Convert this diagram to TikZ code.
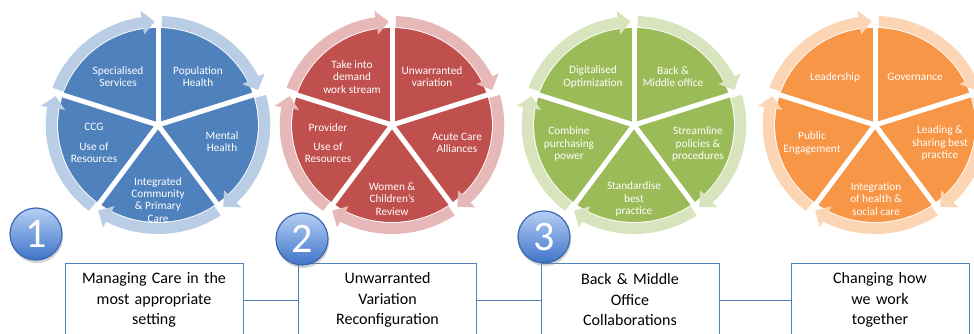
\documentclass[tikz,border=0pt]{standalone}
\usepackage{fontspec}
\setmainfont{Carlito}
\usetikzlibrary{shadows}
\definecolor{bluePie}{HTML}{4F81BD}
\definecolor{blueRing}{HTML}{B9CDE5}
\definecolor{redPie}{HTML}{C0504D}
\definecolor{redRing}{HTML}{E6B9B8}
\definecolor{greenPie}{HTML}{9BBB59}
\definecolor{greenRing}{HTML}{D7E4BD}
\definecolor{orangePie}{HTML}{F79646}
\definecolor{orangeRing}{HTML}{FCD5B5}
\definecolor{boxLine}{HTML}{4F81BD}
\definecolor{ballTop}{HTML}{B5CFF5}
\definecolor{ballBot}{HTML}{3F74C8}
\definecolor{ballLine}{HTML}{3A67AE}

\newcommand{\drawwheel}[4]{%
 \begin{scope}[shift={(#1,-#2)}, xscale=1.03]
  \foreach \k in {0,...,4}{
    \pgfmathsetmacro{\sa}{90-72*\k}
    \pgfmathsetmacro{\ea}{18-72*\k}
    \fill[#3] (0,0) -- (\sa:97) arc[start angle=\sa, end angle=\ea, radius=97] -- cycle;
  }
  \foreach \k in {0,...,4}{
    \draw[white, line width=5pt] (0,0) -- ({90-72*\k}:100);
  }
  \foreach \k in {0,...,4}{
    \pgfmathsetmacro{\ts}{90-72*\k-2}
    \pgfmathsetmacro{\tip}{18-72*\k+1.8}
    \pgfmathsetmacro{\hb}{18-72*\k+8.5}
    \fill[#4] (\ts:109) arc[start angle=\ts, end angle=\hb, radius=109]
      -- (\hb:115.5) -- (\tip:103.5) -- (\hb:91.5) -- (\hb:98)
      arc[start angle=\hb, end angle=\ts, radius=98] -- cycle;
  }
 \end{scope}}

\tikzset{
  lbl/.style={text=white, align=center, inner sep=0pt, font=\fontsize{11.3}{12.2}\selectfont},
  box/.style={draw=boxLine, line width=0.9pt, fill=white, minimum width=178, minimum height=74,
     text width=170, align=center, inner sep=0pt, font=\fontsize{16}{20.5}\selectfont},
  link/.style={draw=boxLine, line width=0.9pt},
  ball/.style={circle, minimum size=52, inner sep=0pt, top color=ballTop, bottom color=ballBot,
     draw=ballLine, line width=1.2pt, text=white, font=\fontsize{42}{42}\selectfont,
     drop shadow={opacity=0.35, shadow xshift=1pt, shadow yshift=-3pt}}
}

\begin{document}
\begin{tikzpicture}[x=1pt, y=1pt]
\useasboundingbox (0,0) rectangle (974,-334);
\clip (0,0) rectangle (974,-334);

\drawwheel{158}{125}{bluePie}{blueRing}
\drawwheel{392}{125}{redPie}{redRing}
\drawwheel{634}{125}{greenPie}{greenRing}
\drawwheel{875}{125}{orangePie}{orangeRing}

% circle 1 labels
\node[lbl] (l11) at (118,-77) {Specialised\\Services};
\node[lbl] (l12) at (198,-77) {Population\\Health};
\node[lbl] (l13) at (222,-142) {Mental\\Health};
\node[lbl] (l14) at (158,-200) {Integrated\\Community\\\& Primary\\Care};
\node[lbl] (l15) at (94,-143) {CCG\\[7pt]Use of\\Resources};
% circle 2 labels
\node[lbl] (l21) at (352,-77) {Take into\\demand\\work stream};
\node[lbl] (l22) at (432,-77) {Unwarranted\\variation};
\node[lbl] (l23) at (457,-143) {Acute Care\\Alliances};
\node[lbl] (l24) at (392,-199) {Women \&\\Children's\\Review};
\node[lbl] (l25) at (328,-143) {Provider\\[7pt]Use of\\Resources};
% circle 3 labels
\node[lbl] (l31) at (593,-77) {Digitalised\\Optimization};
\node[lbl] (l32) at (673,-77) {Back \&\\Middle office};
\node[lbl] (l33) at (698,-144) {Streamline\\policies \&\\procedures};
\node[lbl] (l34) at (634,-199) {Standardise\\best\\practice};
\node[lbl] (l35) at (569,-144) {Combine\\purchasing\\power};
% circle 4 labels
\node[lbl] (l41) at (835,-77) {Leadership};
\node[lbl] (l42) at (915,-77) {Governance};
\node[lbl] (l43) at (940,-143) {Leading \&\\sharing best\\practice};
\node[lbl] (l44) at (876,-199) {Integration\\of health \&\\social care};
\node[lbl] (l45) at (812,-143) {Public\\Engagement};

% boxes
\node[box] (b1) at (154,-300) {Managing Care in the\\most appropriate\\setting};
\node[box] (b2) at (387.5,-300) {Unwarranted\\Variation\\Reconfiguration};
\node[box] (b3) at (630,-300) {Back \& Middle\\Office\\Collaborations};
\node[box] (b4) at (880,-300) {Changing how\\we work\\together};
\draw[link] (b1) -- (b2);
\draw[link] (b2) -- (b3);
\draw[link] (b3) -- (b4);

% number balls
\node[ball] (n1) at (36,-234) {1};
\node[ball] (n2) at (302,-239) {2};
\node[ball] (n3) at (544,-237) {3};
\end{tikzpicture}
\end{document}
